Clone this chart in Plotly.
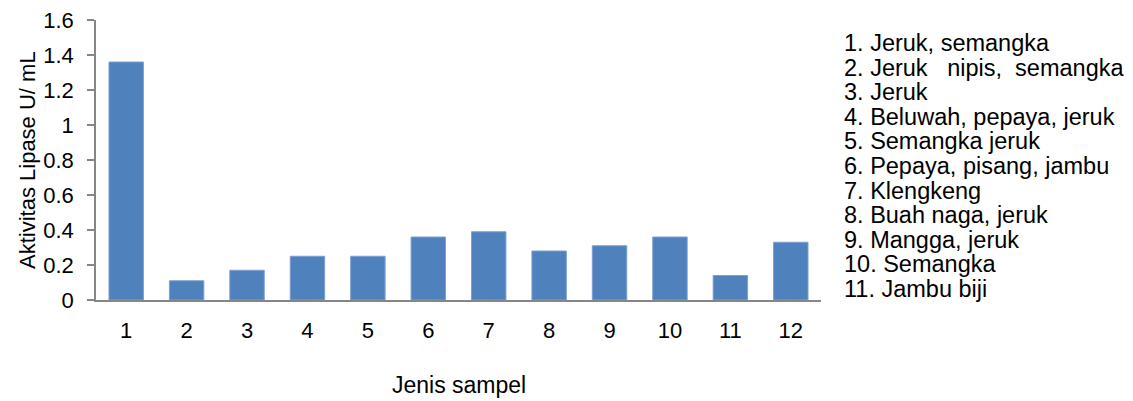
import plotly.graph_objects as go

categories = ["1", "2", "3", "4", "5", "6", "7", "8", "9", "10", "11", "12"]
values = [1.36, 0.11, 0.17, 0.25, 0.25, 0.36, 0.39, 0.28, 0.31, 0.36, 0.14, 0.33]
y_ticks = [0, 0.2, 0.4, 0.6, 0.8, 1.0, 1.2, 1.4, 1.6]
y_tick_labels = ["0", "0.2", "0.4", "0.6", "0.8", "1", "1.2", "1.4", "1.6"]
legend_lines = [
    "1. Jeruk, semangka",
    "2. Jeruk\u00a0\u00a0\u00a0nipis,\u00a0\u00a0semangka",
    "3. Jeruk",
    "4. Beluwah, pepaya, jeruk",
    "5. Semangka jeruk",
    "6. Pepaya, pisang, jambu",
    "7. Klengkeng",
    "8. Buah naga, jeruk",
    "9. Mangga, jeruk",
    "10. Semangka",
    "11. Jambu biji",
]
x_title = "Jenis sampel"
y_title = "Aktivitas Lipase U/ mL"

FONT = "Liberation Sans, Arial, sans-serif"
FS_TICK = 22
FS_LEG = 23.5
FS_XT = 23
FS_YT = 22
W, H = 1133, 401
ml, mr, mt, mb = 96, 312, 20, 101
pw, ph = W - ml - mr, H - mt - mb

fig = go.Figure(
    go.Bar(
        x=categories,
        y=values,
        marker=dict(color="#4F81BD", line=dict(color="#7f9fd0", width=1)),
        hoverinfo="x+y",
    )
)

annotations = []
for i, line in enumerate(legend_lines):
    cy = 43 + 24.6 * i  # pixel from top
    annotations.append(
        dict(
            text=line, xref="paper", yref="paper",
            x=1 + 21 / pw, y=(ph + mt - cy) / ph,
            xanchor="left", yanchor="middle", showarrow=False,
            font=dict(family=FONT, size=FS_LEG, color="#000000"),
        )
    )
annotations.append(
    dict(text=x_title, xref="paper", yref="paper", x=0.5, y=-(385 - (mt + ph)) / ph,
         xanchor="center", yanchor="middle", showarrow=False,
         font=dict(family=FONT, size=FS_XT, color="#000000"))
)
annotations.append(
    dict(text=y_title, xref="paper", yref="paper", x=(27 - ml) / pw, y=0.5,
         xanchor="center", yanchor="middle", showarrow=False, textangle=-90,
         font=dict(family=FONT, size=FS_YT, color="#000000"))
)

fig.update_layout(
    width=W, height=H,
    margin=dict(l=ml, r=mr, t=mt, b=mb, autoexpand=False),
    paper_bgcolor="white", plot_bgcolor="white",
    bargap=0.43,
    showlegend=False,
    font=dict(family=FONT, size=FS_TICK, color="#000000"),
    annotations=annotations,
    xaxis=dict(
        type="category", range=[-0.5, 11.5],
        showline=True, linecolor="#868686", linewidth=1.5,
        ticks="", showgrid=False, zeroline=False,
        ticklabelstandoff=10,
        tickfont=dict(family=FONT, size=FS_TICK, color="#000000"),
    ),
    yaxis=dict(
        range=[0, 1.6], tickvals=y_ticks, ticktext=y_tick_labels,
        showline=True, linecolor="#868686", linewidth=1.5,
        ticks="outside", ticklen=7, tickcolor="#868686", tickwidth=1.5,
        showgrid=False, zeroline=False,
        ticklabelstandoff=9,
        tickfont=dict(family=FONT, size=FS_TICK, color="#000000"),
    ),
)

fig.write_html("out.html")
